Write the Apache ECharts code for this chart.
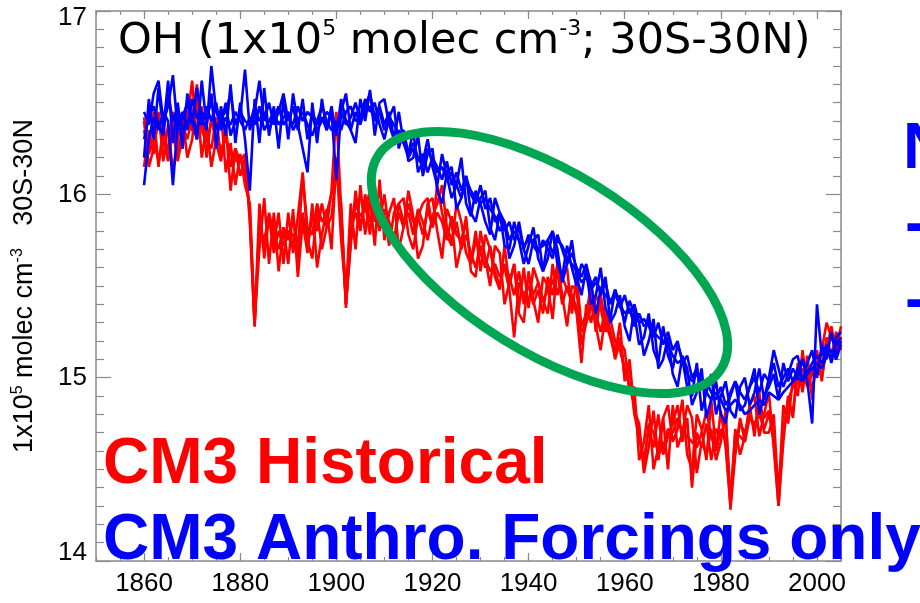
<!DOCTYPE html>
<html><head><meta charset="utf-8">
<script src="https://cdn.jsdelivr.net/npm/echarts@6/dist/echarts.min.js"></script>
<style>html,body{margin:0;padding:0;background:#fff}#c{width:920px;height:603px}</style>
</head><body><div id="c"></div>
<script>
const startYear = 1860, endYear = 2005;
const years = [];
for (let y = startYear; y <= endYear; y++) years.push(y);
const xLabelYears = [1860, 1880, 1900, 1920, 1940, 1960, 1980, 2000];
const yTicks = [14, 15, 16, 17];

// CM3 Historical ensemble members (red)
const red1 = [
16.35,16.22,16.30,16.18,16.28,16.25,16.33,16.20,16.38,16.30,
16.42,16.60,16.35,16.28,16.40,16.32,16.25,16.30,16.22,16.18,
16.20,16.12,15.92,15.30,15.85,15.72,15.90,15.78,15.70,15.82,
15.75,15.88,15.70,16.10,15.82,15.78,15.95,15.85,15.90,16.00,
16.15,15.90,15.40,15.75,15.95,15.88,15.92,16.02,15.85,15.95,
15.88,15.72,15.90,15.95,15.85,15.90,15.78,15.92,15.85,15.75,
15.88,15.95,16.05,15.82,15.75,15.85,15.70,15.78,15.68,15.60,
15.72,15.65,15.58,15.62,15.55,15.60,15.48,15.22,15.52,15.45,
15.50,15.40,15.48,15.35,15.55,15.45,15.62,15.55,15.48,15.42,
15.35,15.08,15.40,15.30,15.45,15.38,15.25,15.32,15.20,15.15,
15.05,14.95,14.85,14.70,14.55,14.72,14.62,14.80,14.58,14.68,
14.75,14.85,14.65,14.78,14.40,14.70,14.62,14.75,14.55,14.72,
14.68,14.78,14.35,14.60,14.75,14.70,14.80,14.72,14.85,14.78,
14.82,14.65,14.35,14.70,14.88,14.95,15.00,15.05,14.95,15.02,
15.08,15.00,15.15,15.28,15.12,15.22];
const red2 = [
16.42,16.25,16.45,16.15,16.38,16.22,16.45,16.18,16.32,16.40,
16.62,16.30,16.48,16.20,16.42,16.28,16.18,16.38,16.02,16.25,
16.10,16.20,15.88,15.28,15.95,15.65,15.88,15.72,15.90,15.62,
15.90,15.68,15.88,16.12,15.75,15.65,15.92,15.70,15.82,16.02,
16.45,15.92,15.40,15.72,16.02,15.82,15.95,15.78,16.05,15.85,
16.00,15.80,15.72,15.95,15.98,15.78,15.70,15.88,15.95,15.98,
15.82,16.05,15.90,15.78,15.72,15.95,15.85,15.68,15.62,15.80,
15.58,15.78,15.70,15.55,15.48,15.72,15.50,15.62,15.38,15.60,
15.38,15.60,15.52,15.42,15.35,15.62,15.45,15.55,15.60,15.35,
15.55,15.28,15.35,15.50,15.25,15.45,15.30,15.22,15.12,15.30,
14.98,15.10,14.82,14.75,14.48,14.62,14.82,14.55,14.78,14.50,
14.85,14.62,14.70,14.85,14.78,14.48,14.65,14.58,14.72,14.55,
14.65,14.82,14.28,14.58,14.78,14.65,14.85,14.68,14.92,14.70,
14.70,14.80,14.35,14.85,14.75,15.00,14.90,15.15,14.95,15.05,
15.00,15.15,15.30,15.22,15.15,15.28];
const red3 = [
16.40,16.15,16.25,16.42,16.30,16.18,16.35,16.28,16.25,16.45,
16.35,16.32,16.40,16.30,16.25,16.42,16.20,16.35,16.15,16.25,
16.18,16.22,15.85,15.28,15.82,15.75,15.88,15.68,15.80,15.72,
15.80,15.78,15.65,15.90,15.72,15.88,15.80,15.95,15.82,15.88,
16.12,15.95,15.38,15.82,15.90,15.80,16.00,15.85,15.92,15.80,
15.92,15.85,15.75,15.90,15.82,15.95,15.85,15.88,15.78,15.92,
15.82,15.90,15.85,15.75,15.88,15.78,15.75,15.85,15.62,15.75,
15.68,15.60,15.72,15.58,15.50,15.62,15.55,15.45,15.58,15.40,
15.55,15.45,15.52,15.42,15.48,15.52,15.58,15.40,15.50,15.45,
15.38,15.25,15.30,15.38,15.35,15.25,15.38,15.25,15.15,15.22,
15.00,15.05,14.80,14.68,14.52,14.75,14.70,14.58,14.62,14.72,
14.70,14.78,14.70,14.68,14.65,14.62,14.70,14.82,14.68,14.60,
14.72,14.65,14.32,14.70,14.68,14.65,14.78,14.75,14.80,14.72,
14.80,14.68,14.30,14.72,14.85,14.82,15.02,14.98,15.05,14.92,
15.10,15.05,15.20,15.22,15.18,15.20];
const red4 = [
16.15,16.35,16.22,16.45,16.18,16.38,16.12,16.30,16.42,16.20,
16.30,16.52,16.20,16.38,16.15,16.30,16.45,16.12,16.28,16.05,
16.22,16.05,15.95,15.32,15.70,15.98,15.62,15.90,15.58,15.82,
15.62,15.92,15.55,15.85,15.68,15.95,15.60,15.78,15.92,15.70,
16.20,15.75,15.45,15.95,15.70,16.05,15.78,15.98,15.72,16.08,
15.75,15.90,15.98,15.70,15.82,16.02,15.88,15.65,15.72,15.95,
15.98,15.80,15.65,15.92,15.85,15.60,15.72,15.88,15.58,15.55,
15.80,15.65,15.50,15.72,15.68,15.40,15.52,15.62,15.35,15.30,
15.58,15.42,15.30,15.55,15.50,15.32,15.62,15.45,15.28,15.50,
15.48,15.18,15.30,15.42,15.28,15.15,15.35,15.25,15.10,15.20,
15.15,14.92,14.95,14.55,14.65,14.85,14.50,14.62,14.78,14.85,
14.65,14.72,14.88,14.58,14.50,14.80,14.72,14.55,14.88,14.60,
14.82,14.62,14.30,14.72,14.58,14.68,14.85,14.90,14.68,14.80,
14.92,14.62,14.30,14.65,14.90,14.78,15.08,14.92,15.12,14.88,
15.15,14.98,15.22,15.12,15.25,15.15];

// CM3 Anthropogenic-forcings-only ensemble members (blue)
const blue1 = [
16.45,16.38,16.55,16.62,16.40,16.48,16.65,16.35,16.42,16.50,
16.38,16.58,16.42,16.35,16.70,16.45,16.38,16.50,16.32,16.40,
16.42,16.68,16.35,16.45,16.62,16.40,16.50,16.38,16.45,16.55,
16.40,16.48,16.35,16.52,16.30,16.45,16.38,16.42,16.35,16.48,
16.32,16.52,16.40,16.35,16.45,16.38,16.48,16.55,16.42,16.48,
16.38,16.45,16.30,16.35,16.28,16.20,16.25,16.18,16.22,16.12,
16.20,16.15,16.08,16.18,16.05,16.12,16.02,16.10,16.00,15.95,
16.05,15.92,15.98,15.85,15.90,15.80,15.85,15.75,15.82,15.70,
15.78,15.72,15.68,15.75,15.70,15.65,15.78,15.70,15.62,15.68,
15.60,15.55,15.62,15.50,15.55,15.45,15.52,15.40,15.48,15.38,
15.45,15.35,15.40,15.30,15.32,15.28,15.22,15.30,15.18,15.25,
15.15,15.20,15.08,15.12,15.00,15.05,14.95,14.98,14.92,14.88,
14.95,14.85,14.90,14.98,14.92,14.88,14.95,15.00,14.92,15.02,
14.98,15.08,14.95,15.00,15.05,14.98,15.05,15.10,15.02,15.08,
15.12,15.08,15.15,15.10,15.18,15.22];
const blue2 = [
16.20,16.52,16.30,16.58,16.35,16.62,16.28,16.50,16.25,16.55,
16.40,16.30,16.62,16.38,16.55,16.25,16.48,16.32,16.60,16.28,
16.50,16.30,16.02,16.52,16.28,16.58,16.32,16.48,16.25,16.52,
16.30,16.55,16.38,16.25,16.12,16.50,16.28,16.52,16.35,16.45,
16.08,16.45,16.55,16.35,16.28,16.52,16.40,16.57,16.32,16.50,
16.52,16.38,16.30,16.45,16.28,16.22,16.35,16.12,16.18,16.30,
16.15,16.05,16.22,16.10,15.98,16.05,16.20,15.95,15.88,16.02,
15.95,15.85,15.78,15.98,15.90,15.72,15.70,15.85,15.75,15.62,
15.72,15.82,15.65,15.58,15.75,15.80,15.62,15.55,15.72,15.60,
15.50,15.62,15.58,15.40,15.45,15.60,15.38,15.32,15.48,15.40,
15.30,15.42,15.35,15.18,15.22,15.35,15.15,15.08,15.28,15.12,
15.05,15.18,15.10,14.95,14.90,15.08,14.82,14.92,15.02,14.80,
14.90,14.98,14.82,14.78,14.95,15.00,14.85,14.92,15.05,14.88,
15.00,15.15,15.05,14.95,15.02,15.10,15.12,14.98,15.08,15.15,
15.00,15.18,15.10,15.25,15.12,15.20];
const blue3 = [
16.05,16.30,16.42,16.35,16.45,16.40,16.05,16.38,16.45,16.35,
16.52,16.42,16.38,16.48,16.40,16.50,16.35,16.42,16.38,16.45,
16.40,16.35,16.42,16.38,16.48,16.35,16.40,16.45,16.38,16.42,
16.45,16.35,16.40,16.45,16.38,16.32,16.40,16.48,16.40,16.35,
16.40,16.35,16.45,16.48,16.40,16.42,16.52,16.45,16.50,16.38,
16.30,16.42,16.48,16.25,16.35,16.18,16.20,16.32,16.10,16.22,
16.25,16.02,15.95,16.12,16.15,15.92,15.98,16.10,15.90,15.85,
15.98,16.02,15.82,15.75,15.90,15.85,15.65,15.72,15.85,15.70,
15.62,15.75,15.78,15.58,15.65,15.80,15.70,15.52,15.62,15.75,
15.55,15.45,15.60,15.52,15.35,15.48,15.55,15.30,15.35,15.45,
15.28,15.20,15.38,15.30,15.12,15.20,15.32,15.05,15.10,15.22,
15.02,14.95,15.12,15.05,14.85,14.92,15.05,14.78,14.88,14.98,
14.80,14.75,14.92,14.98,14.82,14.85,14.95,15.05,14.80,14.90,
14.95,15.02,14.88,15.08,14.98,15.05,15.00,15.10,14.98,14.75,
15.40,15.12,15.18,15.08,15.22,15.25];
const blue4 = [
16.30,16.42,16.48,16.38,16.32,16.55,16.40,16.48,16.35,16.40,
16.42,16.35,16.45,16.40,16.52,16.35,16.42,16.45,16.55,16.38,
16.45,16.40,16.38,16.48,16.40,16.45,16.35,16.42,16.48,16.38,
16.42,16.38,16.48,16.40,16.45,16.42,16.35,16.40,16.45,16.42,
16.35,16.45,16.38,16.42,16.50,16.40,16.45,16.48,16.40,16.45,
16.35,16.42,16.38,16.32,16.35,16.22,16.28,16.20,16.15,16.25,
16.18,16.12,16.15,16.08,16.12,16.05,15.98,16.08,16.02,15.98,
15.95,15.98,15.92,15.88,15.80,15.85,15.75,15.80,15.75,15.72,
15.75,15.75,15.70,15.72,15.75,15.68,15.75,15.72,15.65,15.62,
15.58,15.52,15.55,15.48,15.52,15.48,15.45,15.42,15.45,15.40,
15.35,15.38,15.28,15.35,15.28,15.30,15.25,15.22,15.20,15.18,
15.12,15.08,15.10,15.02,14.98,15.02,14.98,14.92,14.88,14.92,
14.88,14.82,14.85,14.88,14.85,14.80,14.82,14.85,14.88,14.85,
14.92,14.90,14.88,14.92,14.95,14.98,15.00,14.98,15.02,15.05,
15.08,15.05,15.12,15.15,15.10,15.18];

const redMembers = [red1, red2, red3, red4];
const blueMembers = [blue1, blue2, blue3, blue4];

const AX = '#8a8a8a';
const SANS = '"Liberation Sans", Arial, sans-serif';
const DJV = '"DejaVu Sans", sans-serif';
const chart = echarts.init(document.getElementById('c'), null, {renderer: 'canvas'});

function lineSeries(arr, color) {
  return {
    type: 'line', xAxisIndex: 0, yAxisIndex: 0,
    data: years.map((y, i) => [y, arr[i]]),
    showSymbol: false, symbol: 'none', silent: true,
    lineStyle: {color: color, width: 2.6},
    clip: true
  };
}
const series = [];
redMembers.forEach(a => series.push(lineSeries(a, '#ff0000')));
blueMembers.forEach(a => series.push(lineSeries(a, '#0000ff')));

function minorX(pos, labels) {
  return {
    type: 'value', position: pos, min: 1850, max: 2005, interval: 5,
    axisLine: {show: true, onZero: false, lineStyle: {color: AX, width: 1.5}},
    axisTick: {show: true, inside: true, length: 4, lineStyle: {color: AX, width: 1.2}},
    axisLabel: labels ? {
      show: true, fontSize: 26, fontFamily: SANS, fontWeight: 'normal', color: '#000', margin: 10,
      formatter: v => (xLabelYears.indexOf(v) >= 0 ? String(v) : '')
    } : {show: false},
    splitLine: {show: false}
  };
}
function majorX(pos) {
  return {
    type: 'value', position: pos, min: 1850, max: 2005,
    axisLine: {show: false, onZero: false},
    axisTick: {show: true, inside: true, length: 8, customValues: xLabelYears, lineStyle: {color: AX, width: 1.2}},
    axisLabel: {show: false},
    splitLine: {show: false}
  };
}
function yAx(pos, labels) {
  const o = {
    type: 'value', position: pos, min: 14, max: 17, interval: 1,
    axisLine: {show: true, onZero: false, lineStyle: {color: AX, width: 1.5}},
    axisTick: {show: true, inside: true, length: 15, lineStyle: {color: AX, width: 1.2}},
    minorTick: {show: true, splitNumber: 10, length: 8, lineStyle: {color: AX, width: 1.2}},
    splitLine: {show: false}, minorSplitLine: {show: false},
    axisLabel: {show: false}
  };
  if (labels) {
    o.axisLabel = {
      show: true, fontSize: 26, fontFamily: SANS, color: '#000', margin: 9,
      formatter: v => v === yTicks[0] ? '{lo|' + v + '}' : (v === yTicks[yTicks.length - 1] ? '{hi|' + v + '}' : '{n|' + v + '}'),
      rich: {
        n: {fontSize: 26, fontFamily: SANS, color: '#000'},
        lo: {fontSize: 26, fontFamily: SANS, color: '#000', padding: [0, 0, 16, 0]},
        hi: {fontSize: 26, fontFamily: SANS, color: '#000', padding: [14, 0, 0, 0]}
      }
    };
    o.name = '{n|1x10}{s|5}{n| molec cm}{s|-3}{n|   30S-30N}';
    o.nameLocation = 'middle';
    o.nameRotate = 90;
    o.nameGap = 56;
    o.nameTextStyle = {
      rich: {
        n: {fontSize: 27, fontFamily: SANS, color: '#000', lineHeight: 30},
        s: {fontSize: 16, fontFamily: SANS, color: '#000', lineHeight: 16, verticalAlign: 'top'}
      }
    };
  }
  return o;
}

const option = {
  animation: false,
  backgroundColor: '#fff',
  title: {
    text: '{m|OH (1x10}{s|5}{m| molec cm}{s|-3}{m|; 30S-30N)}',
    left: 118, top: 18, padding: 0,
    textStyle: {
      fontWeight: 'normal',
      rich: {
        m: {fontSize: 43, fontFamily: DJV, fontWeight: 'normal', color: '#000', lineHeight: 48},
        s: {fontSize: 22, fontFamily: DJV, fontWeight: 'normal', color: '#000', lineHeight: 22, verticalAlign: 'top'}
      }
    }
  },
  grid: {left: 96, top: 11, right: 79, bottom: 42, containLabel: false},
  xAxis: [minorX('bottom', true), majorX('bottom'), minorX('top', false), majorX('top')],
  yAxis: [yAx('left', true), yAx('right', false)],
  series: series,
  graphic: [
    {type: 'ellipse', x: 549.5, y: 262.5, rotation: -0.555, z: 100,
     shape: {cx: 0, cy: 0, rx: 202, ry: 90},
     style: {fill: 'none', stroke: '#00a651', lineWidth: 9}},
    {type: 'text', x: 103, y: 465, z: 110,
     style: {text: 'CM3 Historical', fill: '#ff0000', font: 'bold 64px "Liberation Sans", Arial, sans-serif', verticalAlign: 'middle', textVerticalAlign: 'middle'}},
    {type: 'text', x: 103, y: 541, z: 110,
     style: {text: 'CM3 Anthro. Forcings only', fill: '#0000ff', font: 'bold 64px "Liberation Sans", Arial, sans-serif', verticalAlign: 'middle', textVerticalAlign: 'middle'}},
    {type: 'text', x: 903, y: 150, z: 110,
     style: {text: 'N', fill: '#0000ff', font: 'bold 64px "Liberation Sans", Arial, sans-serif', verticalAlign: 'middle', textVerticalAlign: 'middle'}},
    {type: 'text', x: 905, y: 226, z: 110,
     style: {text: '-', fill: '#0000ff', font: 'bold 64px "Liberation Sans", Arial, sans-serif', verticalAlign: 'middle', textVerticalAlign: 'middle'}},
    {type: 'text', x: 905, y: 302, z: 110,
     style: {text: '-', fill: '#0000ff', font: 'bold 64px "Liberation Sans", Arial, sans-serif', verticalAlign: 'middle', textVerticalAlign: 'middle'}}
  ]
};
chart.setOption(option);
</script>
</body></html>
